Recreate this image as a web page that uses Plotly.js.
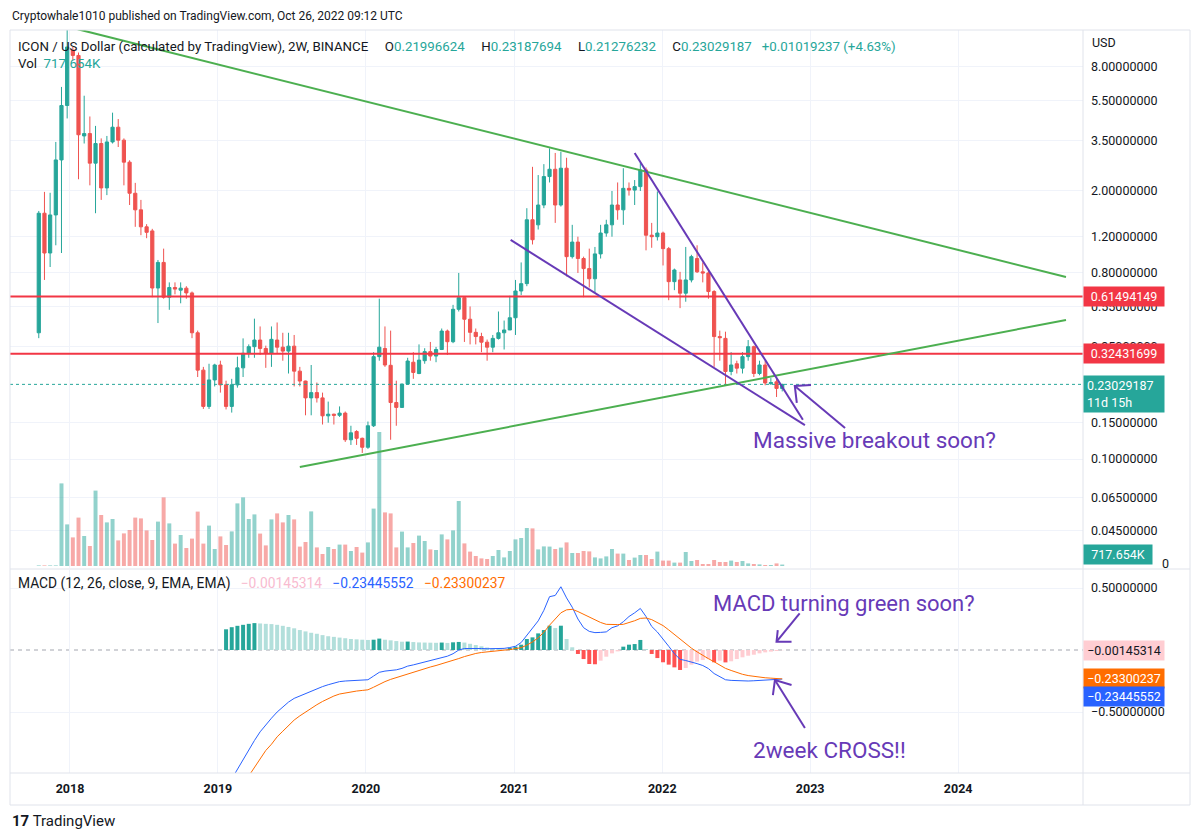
<!DOCTYPE html>
<html><head><meta charset="utf-8">
<script src="https://cdn.plot.ly/plotly-3.0.1.min.js"></script>
<style>html,body{margin:0;padding:0;background:#fff}#chart{width:1200px;height:840px}</style>
</head><body><div id="chart"></div>
<script>
// ---------------- DATA ----------------
const barStart = '2017-10-16';   // open of first 2W bar
const barStepDays = 14;          // 2W interval
const openP = [0.41,1.56,1.0,1.53,2.83,5.2,9.65,9.1,3.7,3.8,
2.73,3.4,2.07,3.46,4.08,3.53,2.76,1.95,1.62,1.34,
1.28,0.676,0.9,0.61,0.68,0.66,0.675,0.64,0.41,0.27,
0.18,0.242,0.286,0.229,0.18,0.229,0.277,0.326,0.351,0.378,
0.344,0.326,0.378,0.349,0.334,0.353,0.267,0.239,0.198,0.21,
0.198,0.162,0.165,0.163,0.167,0.124,0.136,0.126,0.114,0.145,
0.314,0.344,0.285,0.188,0.178,0.231,0.295,0.26,0.30,0.332,
0.316,0.34,0.418,0.371,0.533,0.607,0.477,0.412,0.393,0.369,
0.349,0.385,0.41,0.423,0.485,0.654,0.71,1.45,1.37,1.71,
2.35,2.55,1.71,2.58,0.96,1.13,0.94,0.84,0.75,0.99,
1.25,1.37,1.71,1.62,2.06,2.02,2.1,2.53,1.22,1.2,
1.25,1.05,0.726,0.74,0.638,0.74,0.94,0.81,0.8,0.65,
0.393,0.385,0.266,0.29,0.276,0.314,0.351,0.26,0.286,0.232,
0.237,0.21996624];
const highP = [1.6,1.98,1.96,3.46,6.4,12.9,10.0,9.4,5.8,4.6,
4.14,3.6,3.7,4.8,4.47,3.6,2.82,2.19,1.81,1.38,
1.31,0.925,1.05,0.72,0.72,0.72,0.69,0.65,0.42,0.28,
0.29,0.29,0.30,0.24,0.245,0.314,0.385,0.36,0.48,0.44,
0.355,0.44,0.46,0.41,0.41,0.40,0.28,0.24,0.286,0.235,
0.21,0.19,0.166,0.18,0.17,0.145,0.138,0.127,0.152,0.33,
0.60,0.44,0.42,0.24,0.232,0.31,0.33,0.36,0.345,0.37,
0.35,0.43,0.425,0.56,0.80,0.61,0.55,0.43,0.41,0.38,
0.40,0.52,0.47,0.62,0.74,0.90,1.65,2.62,2.39,2.7,
3.22,3.06,3.1,2.9,1.37,1.2,0.96,1.05,1.07,1.37,
1.45,2.0,2.2,2.58,2.2,2.26,2.75,2.6,1.4,1.99,
1.27,1.07,0.84,0.81,1.07,0.98,1.09,0.9,0.82,0.66,
0.42,0.415,0.33,0.3,0.33,0.378,0.355,0.3,0.3,0.247,
0.245,0.23187694];
const lowP = [0.386,0.74,0.855,1.09,1.0,4.5,8.6,2.28,3.4,2.13,
1.56,1.81,1.91,3.4,3.27,2.13,1.71,1.34,1.22,1.18,
0.61,0.457,0.6,0.53,0.63,0.57,0.6,0.386,0.25,0.175,
0.175,0.225,0.21,0.174,0.168,0.222,0.25,0.31,0.31,0.32,
0.277,0.28,0.326,0.30,0.26,0.225,0.225,0.163,0.163,0.188,
0.147,0.15,0.147,0.16,0.121,0.117,0.117,0.107,0.112,0.143,
0.30,0.28,0.124,0.145,0.177,0.23,0.245,0.258,0.29,0.30,
0.295,0.338,0.32,0.365,0.52,0.37,0.36,0.36,0.33,0.30,
0.33,0.38,0.34,0.423,0.40,0.625,0.69,1.10,1.30,1.65,
2.2,1.4,1.68,0.77,0.94,0.8,0.61,0.68,0.64,0.94,
1.2,1.2,1.45,1.37,1.9,1.71,2.0,1.03,1.06,1.15,
0.87,0.59,0.66,0.54,0.58,0.72,0.8,0.72,0.6,0.28,
0.3,0.229,0.255,0.26,0.26,0.30,0.25,0.255,0.228,0.229,
0.2,0.21276232];
const closeP = [1.56,1.0,1.53,2.83,5.2,10.0,9.1,3.75,3.8,2.73,
3.4,2.07,3.46,4.08,3.53,2.76,1.95,1.62,1.34,1.26,
0.676,0.9,0.61,0.68,0.668,0.675,0.64,0.41,0.27,0.18,
0.242,0.286,0.229,0.18,0.229,0.277,0.326,0.351,0.378,0.344,
0.326,0.381,0.349,0.334,0.353,0.267,0.239,0.198,0.21,0.198,
0.162,0.165,0.163,0.167,0.124,0.134,0.126,0.114,0.145,0.314,
0.349,0.286,0.188,0.178,0.231,0.299,0.263,0.302,0.332,0.316,
0.34,0.418,0.371,0.533,0.607,0.477,0.412,0.393,0.369,0.349,
0.385,0.41,0.423,0.485,0.654,0.71,1.45,1.16,1.71,2.35,
2.55,1.71,2.58,0.96,1.13,0.94,0.84,0.75,0.99,1.25,
1.37,1.71,1.62,2.06,2.02,2.1,2.53,1.22,1.2,1.25,
1.05,0.726,0.827,0.638,0.74,0.96,0.81,0.8,0.65,0.393,
0.388,0.266,0.286,0.276,0.314,0.351,0.26,0.286,0.234,0.235,
0.2200995,0.23029187];
const volumeM = [0.3,0.3,0.3,0.3,41.3,20.8,14.3,24.2,15,10,
37.7,25.5,21.8,23.5,12.8,16.3,18,24.2,23.8,17.8,
13,22.2,34.3,21.3,11.2,15.5,9,13.7,27.2,11.2,
20.2,8.5,14.8,10.5,17.3,31.3,34.3,23.5,25.8,16.2,
10.3,23.3,26.3,21.8,25.5,23.3,9.7,12,27.3,9.3,
6,9.5,8.5,10.7,10.7,7.5,9.5,6.7,11.8,28.7,
67,26.8,26.3,9.3,17.2,9.3,11.5,15.2,12.5,8.3,
8,15.8,13.3,17.8,32.5,11.3,7.2,5,3.8,3.5,
5,8,4.3,7.5,13.3,14,19,18.8,8.3,9.8,
9.7,8.5,9.2,11.8,6.5,6.5,7.5,7.3,4.3,3.8,
4.8,8.5,6.2,6.2,3,4.2,5.5,5.5,3.5,7.2,
2.7,2.7,1.7,1.7,7,2.5,3,1,1,3,
2,2,2.7,2,2.5,1.3,1,0.8,0.5,0.5,
1.3,0.717654];
const macdLine = [null,null,null,null,null,null,null,null,null,null,
null,null,null,null,null,null,null,null,null,null,
null,null,null,null,null,-1.95,-1.9,-1.82,-1.72,-1.6,
-1.48,-1.35,-1.23,-1.12,-1.04,-0.96,-0.88,-0.80,-0.73,-0.66,
-0.60,-0.55,-0.50,-0.46,-0.42,-0.39,-0.37,-0.35,-0.33,-0.31,
-0.295,-0.28,-0.265,-0.255,-0.25,-0.248,-0.245,-0.243,-0.24,-0.21,
-0.18,-0.17,-0.165,-0.16,-0.148,-0.13,-0.12,-0.108,-0.096,-0.085,
-0.075,-0.062,-0.05,-0.03,0.0,0.012,0.014,0.015,0.012,0.01,
0.01,0.011,0.013,0.02,0.03,0.06,0.12,0.17,0.235,0.32,
0.43,0.44,0.51,0.42,0.345,0.25,0.18,0.15,0.14,0.142,
0.146,0.18,0.195,0.228,0.27,0.30,0.335,0.27,0.19,0.145,
0.09,0.03,-0.03,-0.075,-0.085,-0.095,-0.11,-0.125,-0.15,-0.19,
-0.215,-0.24,-0.245,-0.248,-0.25,-0.25,-0.248,-0.246,-0.244,-0.24,
-0.238,-0.23445552];
const signalLine = [null,null,null,null,null,null,null,null,null,null,
null,null,null,null,null,null,null,null,null,null,
null,null,null,null,null,null,null,null,null,null,
null,null,null,-1.29,-1.22,-1.16,-1.08,-1.01,-0.95,-0.874,
-0.81,-0.76,-0.70,-0.655,-0.606,-0.565,-0.531,-0.50,-0.469,-0.441,
-0.415,-0.391,-0.371,-0.355,-0.345,-0.337,-0.331,-0.326,-0.321,-0.30,
-0.276,-0.255,-0.237,-0.222,-0.207,-0.192,-0.178,-0.164,-0.15,-0.137,
-0.125,-0.112,-0.1,-0.086,-0.069,-0.053,-0.039,-0.028,-0.02,-0.014,
-0.009,-0.005,-0.001,0.003,0.008,0.019,0.039,0.065,0.099,0.143,
0.2,0.248,0.3,0.324,0.328,0.31,0.287,0.262,0.24,0.222,
0.207,0.203,0.205,0.207,0.22,0.236,0.255,0.258,0.245,0.224,
0.197,0.162,0.125,0.088,0.055,0.015,-0.015,-0.045,-0.07,-0.095,
-0.125,-0.148,-0.165,-0.182,-0.196,-0.206,-0.213,-0.219,-0.224,-0.227,
-0.23,-0.23300237];
const macdHist = [null,null,null,null,null,null,null,null,null,null,
null,null,null,null,null,null,null,null,null,null,
null,null,null,null,null,null,null,null,null,null,
null,null,null,0.167,0.184,0.195,0.203,0.211,0.217,0.214,
0.211,0.209,0.203,0.195,0.186,0.175,0.161,0.150,0.139,0.131,
0.120,0.111,0.106,0.100,0.095,0.089,0.086,0.083,0.081,0.083,
0.092,0.083,0.078,0.072,0.067,0.068,0.064,0.061,0.060,0.059,
0.058,0.060,0.057,0.062,0.065,0.060,0.050,0.040,0.030,0.020,
0.012,0.008,0.005,0.016,0.027,0.043,0.089,0.102,0.134,0.161,
0.196,0.177,0.196,0.089,0.022,-0.032,-0.073,-0.113,-0.115,-0.086,
-0.054,-0.027,-0.011,0.027,0.043,0.048,0.081,0.008,-0.032,-0.065,
-0.099,-0.118,-0.140,-0.161,-0.145,-0.118,-0.094,-0.081,-0.073,-0.099,
-0.086,-0.1,-0.091,-0.073,-0.059,-0.046,-0.038,-0.027,-0.019,-0.013,
-0.008,-0.00145314];
const priceTicks = [8, 5.5, 3.5, 2, 1.2, 0.8, 0.55, 0.35, 0.15, 0.1, 0.065, 0.045];
const macdTicks = [0.5, -0.5];
const hLevels = [0.61494149, 0.32431699];
// drawings (date, value)
const greenTopX = ['2018-01-20', '2024-09-23'], greenTopY = [12.2, 0.765];
const greenLowX = ['2019-07-22', '2024-09-23'], greenLowY = [0.0914, 0.473];
const purpleTopX = ['2021-10-25', '2022-12-14'], purpleTopY = [3.06, 0.155];
const purpleLowX = ['2020-12-23', '2022-12-19'], purpleLowY = [1.157, 0.146];
const arrowPX = ['2023-03-28', '2022-11-24', null, '2023-01-03', '2022-11-24', '2022-11-29'];
const arrowPY = [0.1413, 0.2262, null, 0.2287, 0.2262, 0.1874];
const arrowM1X = ['2022-12-06', '2022-10-10', null, '2022-11-16', '2022-10-10', '2022-10-13'];
const arrowM1Y = [0.296, 0.067, null, 0.067, 0.067, 0.161];
const arrowM2X = ['2022-12-19', '2022-10-06', null, '2022-11-16', '2022-10-06', '2022-10-01'];
const arrowM2Y = [-0.629, -0.242, null, -0.282, -0.242, -0.363];
const xRange = ['2017-08-06', '2024-11-04'];

// ---------------- helpers ----------------
const t0 = new Date(barStart + 'T00:00:00Z').getTime();
const dates = closeP.map((_, i) => new Date(t0 + i * barStepDays * 86400000).toISOString().slice(0, 10));
const PL = 10, PR = 1083, PT = 30, PB = 773;
const px = x => (x - PL) / (PR - PL);
const py = y => (PB - y) / (PB - PT);
const fmt = v => (v < 0 ? '\u2212' : '') + Math.abs(v).toFixed(8);
const N = closeP.length;
const TEAL = '#26a69a', RED = '#ef5350', LINE_RED = '#f23645', PURPLE = '#673ab7', GREEN = '#4caf50';
const FONT = 'Roboto, "Liberation Sans", Arial, sans-serif';
const SP = n => '&nbsp;'.repeat(n);

const volColors = closeP.map((c, i) => c >= openP[i] ? 'rgba(38,166,154,0.5)' : 'rgba(239,83,80,0.5)');
const histColors = macdHist.map((h, i) => {
  if (h === null) return 'rgba(0,0,0,0)';
  const p = i > 0 ? macdHist[i - 1] : null;
  if (h >= 0) return (p === null || h > p) ? '#26a69a' : '#b2dfdb';
  return (p !== null && h > p) ? '#ffcdd2' : '#ff5252';
});

const traces = [
  {type: 'bar', x: dates, y: volumeM, xaxis: 'x', yaxis: 'y', marker: {color: volColors, line: {width: 0}}, hoverinfo: 'skip'},
  {type: 'candlestick', x: dates, open: openP, high: highP, low: lowP, close: closeP, xaxis: 'x', yaxis: 'y2',
   increasing: {line: {color: TEAL, width: 1}, fillcolor: TEAL},
   decreasing: {line: {color: RED, width: 1}, fillcolor: RED}, whiskerwidth: 0, hoverinfo: 'skip'},
  {type: 'scatter', mode: 'lines', x: xRange, y: [closeP[N - 1], closeP[N - 1]], xaxis: 'x', yaxis: 'y2', line: {color: TEAL, width: 1, dash: 'dot'}, hoverinfo: 'skip'},
  ...hLevels.map(l => ({type: 'scatter', mode: 'lines', x: xRange, y: [l, l], xaxis: 'x', yaxis: 'y2', line: {color: LINE_RED, width: 2}, hoverinfo: 'skip'})),
  {type: 'scatter', mode: 'lines', x: greenTopX, y: greenTopY, xaxis: 'x', yaxis: 'y2', line: {color: GREEN, width: 2}, hoverinfo: 'skip'},
  {type: 'scatter', mode: 'lines', x: greenLowX, y: greenLowY, xaxis: 'x', yaxis: 'y2', line: {color: GREEN, width: 2}, hoverinfo: 'skip'},
  {type: 'scatter', mode: 'lines', x: purpleTopX, y: purpleTopY, xaxis: 'x', yaxis: 'y2', line: {color: PURPLE, width: 2}, hoverinfo: 'skip'},
  {type: 'scatter', mode: 'lines', x: purpleLowX, y: purpleLowY, xaxis: 'x', yaxis: 'y2', line: {color: PURPLE, width: 2}, hoverinfo: 'skip'},
  {type: 'scatter', mode: 'lines', x: arrowPX, y: arrowPY, xaxis: 'x', yaxis: 'y2', line: {color: PURPLE, width: 2}, connectgaps: false, hoverinfo: 'skip'},
  {type: 'bar', x: dates, y: macdHist, xaxis: 'x', yaxis: 'y3', marker: {color: histColors, line: {width: 0}}, hoverinfo: 'skip'},
  {type: 'scatter', mode: 'lines', x: dates, y: macdLine, xaxis: 'x', yaxis: 'y3', line: {color: '#2962ff', width: 1}, hoverinfo: 'skip'},
  {type: 'scatter', mode: 'lines', x: dates, y: signalLine, xaxis: 'x', yaxis: 'y3', line: {color: '#ff6d00', width: 1}, hoverinfo: 'skip'},
  {type: 'scatter', mode: 'lines', x: arrowM1X, y: arrowM1Y, xaxis: 'x', yaxis: 'y3', line: {color: PURPLE, width: 2}, connectgaps: false, hoverinfo: 'skip'},
  {type: 'scatter', mode: 'lines', x: arrowM2X, y: arrowM2Y, xaxis: 'x', yaxis: 'y3', line: {color: PURPLE, width: 2}, connectgaps: false, hoverinfo: 'skip'}
];

const lastO = openP[N - 1], lastH = highP[N - 1], lastL = lowP[N - 1], lastC = closeP[N - 1], prevC = closeP[N - 2];
const chg = lastC - prevC, chgPct = chg / prevC * 100;
const tealSpan = s => '<span style="color:' + TEAL + '">' + s + '</span>';
const volK = (volumeM[N - 1] * 1000).toFixed(3) + 'K';

const box = (text, yref, y, bg, fg, extra) => Object.assign({
  xref: 'paper', x: 1, xanchor: 'left', yref: yref, y: y, yanchor: 'middle', text: text, showarrow: false,
  bgcolor: bg, font: {family: FONT, size: 12.5, color: fg}, borderpad: 3, width: 74, height: 13, align: 'center'
}, extra || {});

const annotations = [
  {xref: 'paper', yref: 'paper', x: px(10), y: py(16), xanchor: 'left', yanchor: 'middle', showarrow: false,
   text: 'Cryptowhale1010 published on TradingView.com, Oct 26, 2022 09:12 UTC', font: {family: FONT, size: 12, color: '#131722'}},
  {xref: 'paper', yref: 'paper', x: px(16), y: py(46), xanchor: 'left', yanchor: 'middle', showarrow: false,
   text: 'ICON / US Dollar (calculated by TradingView), 2W, BINANCE' + SP(5) + 'O' + tealSpan(lastO.toFixed(8)) +
     SP(5) + 'H' + tealSpan(lastH.toFixed(8)) + SP(5) + 'L' + tealSpan(lastL.toFixed(8)) + SP(5) + 'C' + tealSpan(lastC.toFixed(8)) +
     SP(3) + tealSpan('+' + chg.toFixed(8) + ' (+' + chgPct.toFixed(2) + '%)'),
   font: {family: FONT, size: 13.3, color: '#131722'}},
  {xref: 'paper', yref: 'paper', x: px(16), y: py(64), xanchor: 'left', yanchor: 'middle', showarrow: false,
   text: 'Vol' + SP(2) + tealSpan(volK), font: {family: FONT, size: 13.3, color: '#131722'}},
  {xref: 'paper', yref: 'paper', x: px(16), y: py(583), xanchor: 'left', yanchor: 'middle', showarrow: false,
   text: 'MACD (12, 26, close, 9, EMA, EMA)' + SP(3) + '<span style="color:#f8bbd0">' + fmt(macdHist[N - 1]) +
     '</span>' + SP(3) + '<span style="color:#2962ff">' + fmt(macdLine[N - 1]) + '</span>' + SP(3) + '<span style="color:#ff6d00">' + fmt(signalLine[N - 1]) + '</span>',
   font: {family: FONT, size: 13.8, color: '#131722'}},
  {xref: 'paper', yref: 'paper', x: px(1090), y: py(43), xanchor: 'left', yanchor: 'middle', showarrow: false,
   text: 'USD', font: {family: FONT, size: 12.5, color: '#131722'}},
  {xref: 'paper', yref: 'y', x: px(1160), y: 0, yshift: 3, xanchor: 'left', yanchor: 'middle', showarrow: false,
   text: '0', font: {family: FONT, size: 12.5, color: '#131722'}},
  ...hLevels.map(l => box(l.toFixed(8), 'y2', Math.log10(l), LINE_RED, '#ffffff')),
  box(lastC.toFixed(8) + '<br>11d 15h', 'y2', Math.log10(lastC), TEAL, '#ffffff', {yanchor: 'top', yshift: 9, height: 30, align: 'left'}),
  box(volK, 'y', volumeM[N - 1], TEAL, '#ffffff', {yanchor: 'bottom', width: 62}),
  box(fmt(macdHist[N - 1]), 'y3', macdHist[N - 1], '#ffcdd2', '#131722'),
  box(fmt(signalLine[N - 1]), 'y3', signalLine[N - 1], '#ff6d00', '#ffffff'),
  box(fmt(macdLine[N - 1]), 'y3', macdLine[N - 1], '#2962ff', '#ffffff', {yshift: -17}),
  {xref: 'paper', yref: 'paper', x: px(751), y: py(440), xanchor: 'left', yanchor: 'middle', showarrow: false,
   text: 'Massive breakout soon?', font: {family: FONT, size: 22.5, color: PURPLE}},
  {xref: 'paper', yref: 'paper', x: px(711), y: py(603), xanchor: 'left', yanchor: 'middle', showarrow: false,
   text: 'MACD turning green soon?', font: {family: FONT, size: 22, color: PURPLE}},
  {xref: 'paper', yref: 'paper', x: px(751), y: py(750), xanchor: 'left', yanchor: 'middle', showarrow: false,
   text: '2week CROSS!!', font: {family: FONT, size: 22.5, color: PURPLE}},
  {xref: 'paper', yref: 'paper', x: px(10), y: py(821), xanchor: 'left', yanchor: 'middle', showarrow: false,
   text: '<b>17</b> TradingView', font: {family: FONT, size: 15, color: '#131722'}}
];

const BORDER = '#e0e3eb';
const xR = px(1190), yB = py(805);
const pl = (x0, y0, x1, y1) => ({type: 'line', xref: 'paper', yref: 'paper', x0, y0, x1, y1, line: {color: BORDER, width: 1}});
const shapes = [
  pl(0, 1, xR, 1), pl(0, yB, xR, yB), pl(0, yB, 0, 1), pl(xR, yB, xR, 1),
  pl(1, yB, 1, 1), pl(0, py(569), xR, py(569)), pl(0, 0, xR, 0),
  {type: 'line', xref: 'paper', yref: 'y3', x0: 0, x1: 1, y0: 0, y1: 0, layer: 'below', line: {color: '#a3a6af', width: 1, dash: '4px,4px'}}
];

const GRID = '#f0f3fa';
const layout = {
  width: 1200, height: 840, autosize: false,
  margin: {l: PL, r: 1200 - PR, t: PT, b: 840 - PB, pad: 0},
  paper_bgcolor: '#ffffff', plot_bgcolor: '#ffffff',
  showlegend: false, hovermode: false, dragmode: false,
  bargap: 0.3, barmode: 'overlay', boxgap: 0.25, boxgroupgap: 0.25,
  font: {family: FONT, size: 12.5, color: '#131722'},
  xaxis: {type: 'date', range: xRange, anchor: 'y3', domain: [0, 1], showgrid: true, gridcolor: GRID, gridwidth: 1,
          dtick: 'M12', tick0: '2018-01-01', tickformat: '%Y', ticks: '', showline: false, zeroline: false,
          tickfont: {family: FONT, size: 12.5, color: '#131722', weight: 700}, ticklabelstandoff: 6,
          rangeslider: {visible: false}, fixedrange: true},
  yaxis: {domain: [py(568), 1], range: [-1, 268], showgrid: false, zeroline: false, showticklabels: false, ticks: '', fixedrange: true},
  yaxis2: {type: 'log', overlaying: 'y', side: 'right', anchor: 'x', range: [-1.52913, 1.08252],
           tickvals: priceTicks, ticktext: priceTicks.map(v => v.toFixed(8)), showgrid: true, gridcolor: GRID,
           zeroline: false, ticks: '', ticklabelstandoff: 7, tickfont: {family: FONT, size: 12.5, color: '#131722'}, fixedrange: true},
  yaxis3: {domain: [0, py(570)], range: [-0.9919, 0.6452], side: 'right', anchor: 'x',
           tickvals: macdTicks, ticktext: macdTicks.map(fmt), showgrid: true, gridcolor: GRID, zeroline: false, ticks: '',
           ticklabelstandoff: 7, tickfont: {family: FONT, size: 12.5, color: '#131722'}, fixedrange: true},
  annotations: annotations,
  shapes: shapes
};

Plotly.newPlot('chart', traces, layout, {staticPlot: true, displayModeBar: false});
</script>
</body></html>
